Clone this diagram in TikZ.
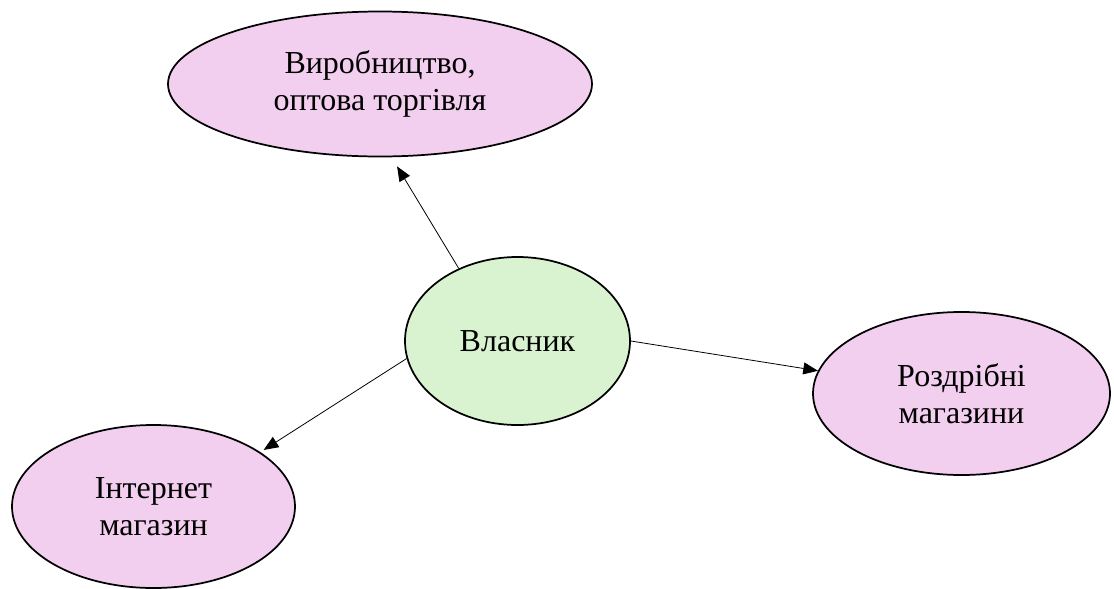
\documentclass[tikz,border=0pt]{standalone}
\usepackage{fontspec}
\setmainfont{Liberation Serif}
\usetikzlibrary{shapes.geometric,arrows.meta}
\definecolor{pinkfill}{RGB}{242,206,239}
\definecolor{greenfill}{RGB}{217,242,208}
\tikzset{
  oval/.style={ellipse, draw=black, line width=1.3pt, inner sep=0pt, align=center,
    font=\fontsize{24}{27.5}\selectfont},
  target/.style={oval, fill=pinkfill},
  owner/.style={oval, fill=greenfill},
  link/.style={line width=0.6pt, -{Triangle[length=11pt,width=9pt]}}
}
\begin{document}
\begin{tikzpicture}[x=0.75pt,y=-0.75pt]
  \useasboundingbox (0,0) rectangle (1114,589);
  \node[owner, minimum width=168.75pt, minimum height=126pt] (own) at (517.5,341) {Власник};
  \node[target, minimum width=318pt, minimum height=108.75pt] (prod) at (380,84) {Виробництво,\\оптова торгівля};
  \node[target, minimum width=222.75pt, minimum height=122.25pt] (retail) at (961.5,393.5) {Роздрібні\\магазини};
  \node[target, minimum width=212.25pt, minimum height=122.25pt] (online) at (153.5,506.5) {Інтернет\\магазин};
  \draw[link, shorten >=8pt] (own.129) -- (prod.-81);
  \draw[link] (own.0) -- (retail.171);
  \draw[link, shorten >=3pt] (own.-171) -- (online.27);
\end{tikzpicture}
\end{document}
